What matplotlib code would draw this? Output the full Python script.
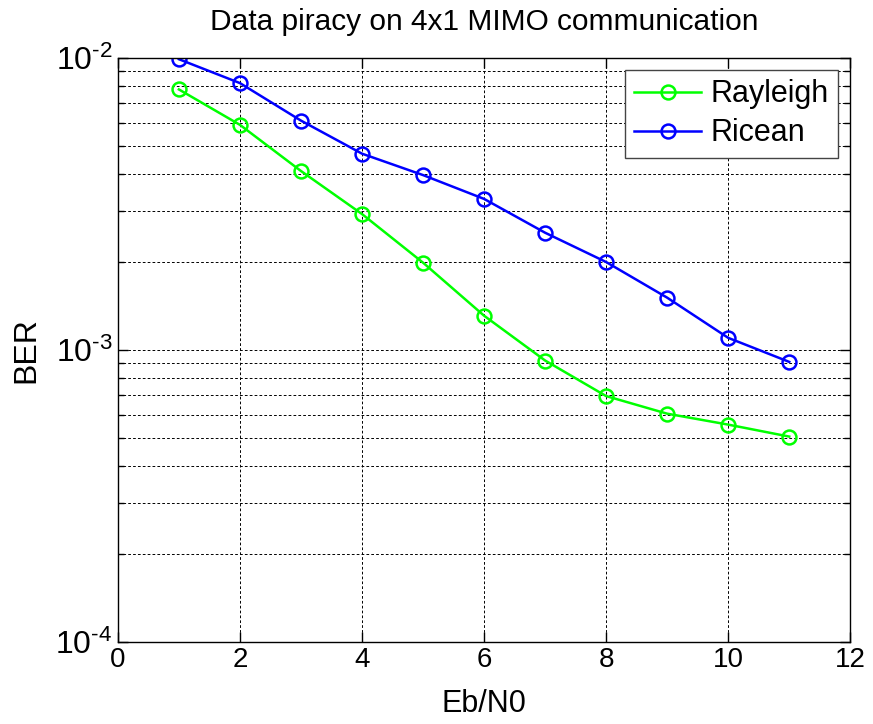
import numpy as np
import matplotlib
matplotlib.use("Agg")
import matplotlib.pyplot as plt
from matplotlib.ticker import LogLocator, NullFormatter, FuncFormatter

plt.rcParams['font.family'] = ['Liberation Sans', 'DejaVu Sans']
plt.rcParams['mathtext.fontset'] = 'custom'
plt.rcParams['mathtext.rm'] = 'Liberation Sans'
plt.rcParams['mathtext.it'] = 'Liberation Sans'

# Eb/N0 values and BER
ebn0 = [1, 2, 3, 4, 5, 6, 7, 8, 9, 10, 11]
ber_rayleigh = [7.8e-3, 5.9e-3, 4.1e-3, 2.92e-3, 1.99e-3, 1.31e-3,
                9.2e-4, 6.95e-4, 6.05e-4, 5.55e-4, 5.05e-4]
ber_ricean = [9.9e-3, 8.2e-3, 6.1e-3, 4.7e-3, 3.97e-3, 3.29e-3,
              2.52e-3, 2.0e-3, 1.51e-3, 1.1e-3, 9.1e-4]
xticks = [0, 2, 4, 6, 8, 10, 12]

fig = plt.figure(figsize=(8.73, 7.24), dpi=100)
ax = fig.add_axes([0.135, 0.1133, 0.839, 0.8067])

ax.semilogy(ebn0, ber_rayleigh, '-o', color='#00ff00', lw=1.8, ms=10,
            mew=1.8, mfc='none', label='Rayleigh')
ax.semilogy(ebn0, ber_ricean, '-o', color='#0000ff', lw=1.8, ms=10,
            mew=1.8, mfc='none', label='Ricean')

ax.set_xlim(0, 12)
ax.set_ylim(1e-4, 1e-2)
ax.set_xticks(xticks)
ax.yaxis.set_major_locator(LogLocator(base=10, numticks=10))
ax.yaxis.set_major_formatter(FuncFormatter(
    lambda v, p: r'$10^{\text{-%d}}$' % round(-np.log10(v))))
ax.yaxis.set_minor_locator(LogLocator(base=10, subs=np.arange(2, 10), numticks=10))
ax.yaxis.set_minor_formatter(NullFormatter())

grid_kw = dict(color='k', lw=0.7, dashes=(2.8, 2.2))
ax.grid(True, which='major', ls='--', **grid_kw)
ax.grid(True, which='minor', axis='y', ls='--', **grid_kw)
ax.tick_params(which='both', direction='in', top=True, right=True,
               labelsize=20, width=1)
ax.tick_params(axis='y', which='major', labelsize=23, pad=4)
ax.tick_params(which='major', length=7)
ax.tick_params(which='minor', length=4)
for s in ax.spines.values():
    s.set_linewidth(1)

ax.set_title('Data piracy on 4x1 MIMO communication', fontsize=21.5, pad=20)
ax.set_xlabel('Eb/N0', fontsize=22, labelpad=12)
ax.set_ylabel('BER', fontsize=23, labelpad=10)

leg = ax.legend(loc='upper right', fontsize=22, fancybox=False,
                framealpha=1, edgecolor='#444444', handlelength=2.2,
                handletextpad=0.3, borderpad=0.3, labelspacing=0.3,
                borderaxespad=0.4)
leg.get_frame().set_linewidth(1)

fig.savefig('out.png', dpi=100)
